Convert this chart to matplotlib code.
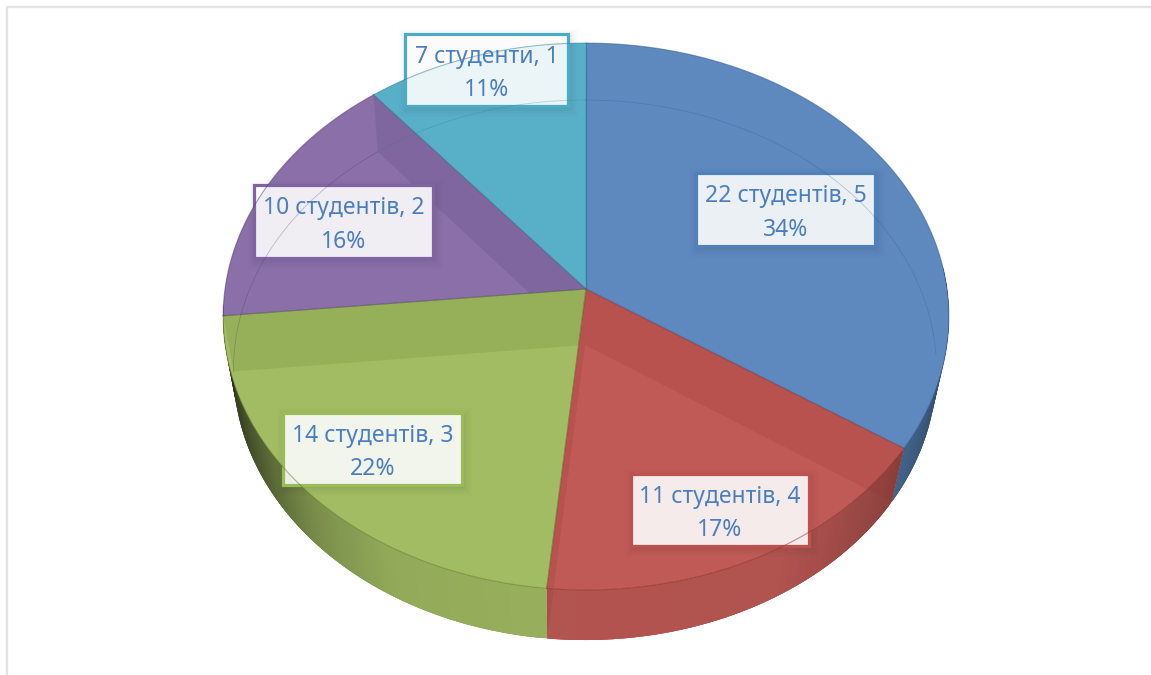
import numpy as np
import matplotlib
matplotlib.use('Agg')
import matplotlib.pyplot as plt
from matplotlib.patches import Polygon, Rectangle

## DATA
counts = [22, 11, 14, 10, 7]
groups = [5, 4, 3, 2, 1]
words = ['студентів', 'студентів', 'студентів', 'студентів', 'студенти']

## STYLE
top_colors = ['#5D89BF', '#C05A56', '#A2BC63', '#8A6FA8', '#58AFC8']
edge_colors = ['#4F81BD', '#C0504D', '#9BBB59', '#8064A2', '#4BACC6']
dark_colors = ['#2F5C94', '#8E2F2C', '#5F7A2E', '#4F3A75', '#2A7F98']
text_color = '#4A7EBF'

# label boxes x0, y0, x1, y1 in pixels
boxes = [(696, 173, 875, 246), (631, 474, 809, 546), (283, 413, 462, 485),
         (254, 185, 433, 258), (405, 34, 568, 106)]

# pie geometry: top and bottom disc in perspective
top_disc = (586, 289, 361, 270.7, 0.1006)
bot_disc = (585, 345, 350, 267.7, 0.0926)

# shade of the side wall by angle
shade_a = [85, 95, 105, 123, 135, 150, 190, 210, 225, 240, 255, 266]
shade_v = [.25, .35, .55, .72, .8, .92, .93, .9, .75, .5, .3, .2]


def disc_pt(disc, theta):
    cx, cy, a, b, k = disc
    t = np.radians(theta)
    w = 1 + k*np.cos(t)
    return cx + a*np.sin(t)/w, cy - b*np.cos(t)/w


def disc_xy(disc, t0, t1, n=200):
    th = np.linspace(t0, t1, n)
    x, y = disc_pt(disc, th)
    return np.column_stack([x, y])


def darker(col, f):
    return tuple(np.array(matplotlib.colors.to_rgb(col))*f)


fig = plt.figure(figsize=(11.51, 6.75), dpi=100)
ax = fig.add_axes([0, 0, 1, 1])
ax.set_xlim(0, 1151)
ax.set_ylim(675, 0)
ax.axis('off')

# frame of the picture
ax.plot([1151, 7, 7], [7, 7, 675], color='#E2E2E2', lw=1.6, solid_joinstyle='miter')

total = sum(counts)
edges = np.cumsum([0] + counts)/total*360
top_apex = top_disc[:2]
bot_apex = bot_disc[:2]

# side wall, the pieces overlap so no seams show
for i in range(len(counts)):
    t0, t1 = edges[i], edges[i+1]
    for a in np.arange(t0, t1, 0.5):
        b = min(a + 1.5, t1)
        mid = a + 0.25
        if mid < 85 or mid > 266:
            continue
        f = np.interp(mid, shade_a, shade_v)
        quad = np.vstack([disc_xy(top_disc, a, b, 4), disc_xy(bot_disc, b, a, 4)])
        ax.add_patch(Polygon(quad, facecolor=darker(top_colors[i], f), edgecolor='none'))

# top faces
for i in range(len(counts)):
    t0, t1 = edges[i], edges[i+1]
    pts = np.vstack([[top_apex], disc_xy(top_disc, t0, t1)])
    ax.add_patch(Polygon(pts, facecolor=top_colors[i], edgecolor='none'))

# inner walls seen through the top
for i in range(len(counts)):
    t0, t1 = edges[i], edges[i+1]
    mid = (t0+t1)/2
    if np.cos(np.radians(mid)) < 0:
        outline = np.vstack([[top_apex], [disc_pt(top_disc, t0)],
                             disc_xy(bot_disc, t0, t1), [disc_pt(top_disc, t1)]])
    else:
        outline = np.vstack([[top_apex], disc_xy(top_disc, t0, t1)])
    for t in (t0, t1):
        wall = np.array([top_apex, disc_pt(top_disc, t), disc_pt(bot_disc, t), bot_apex])
        p = Polygon(wall, facecolor=dark_colors[i], edgecolor='none', alpha=0.17)
        ax.add_patch(p)
        p.set_clip_path(Polygon(outline, transform=ax.transData))

# radial edges and rims
for i in range(len(counts)):
    t0, t1 = edges[i], edges[i+1]
    for t in (t0, t1):
        x, y = disc_pt(top_disc, t)
        ax.plot([top_apex[0], x], [top_apex[1], y], color=dark_colors[i], lw=0.8, alpha=0.4)
    rim = disc_xy(top_disc, t0, t1)
    ax.plot(rim[:, 0], rim[:, 1], color=dark_colors[i], lw=0.8, alpha=0.5)

# far part of the bottom rim shows through
for i in range(len(counts)):
    t0, t1 = edges[i], edges[i+1]
    if i == 0:
        t1 = 92
    elif i in (1, 2):
        continue
    rim = disc_xy(bot_disc, t0, t1)
    ax.plot(rim[:, 0], rim[:, 1], color=dark_colors[i], lw=0.6, alpha=0.3)

# labels
for i in range(len(counts)):
    x0, y0, x1, y1 = boxes[i]
    for grow, alp in zip([8, 6, 4, 2, 0], [.012, .018, .025, .03, .035]):
        ax.add_patch(Rectangle((x0-grow+2, y0-grow+3), x1-x0+2*grow, y1-y0+2*grow,
                               facecolor='#303030', edgecolor='none', alpha=alp))
    ax.add_patch(Rectangle((x0, y0), x1-x0, y1-y0, facecolor='white', edgecolor='none', alpha=0.89))
    ax.add_patch(Rectangle((x0, y0), x1-x0, y1-y0, facecolor='none', edgecolor=edge_colors[i], lw=2.3))
    pct = round(counts[i]/total*100)
    ax.text((x0+x1)/2, (y0+y1)/2 + 3.5, f'{counts[i]} {words[i]}, {groups[i]}\n{pct}%',
            ha='center', va='center', color=text_color, fontsize=16.5,
            family='Noto Sans', linespacing=1.55)

fig.savefig('out.png', dpi=100)
